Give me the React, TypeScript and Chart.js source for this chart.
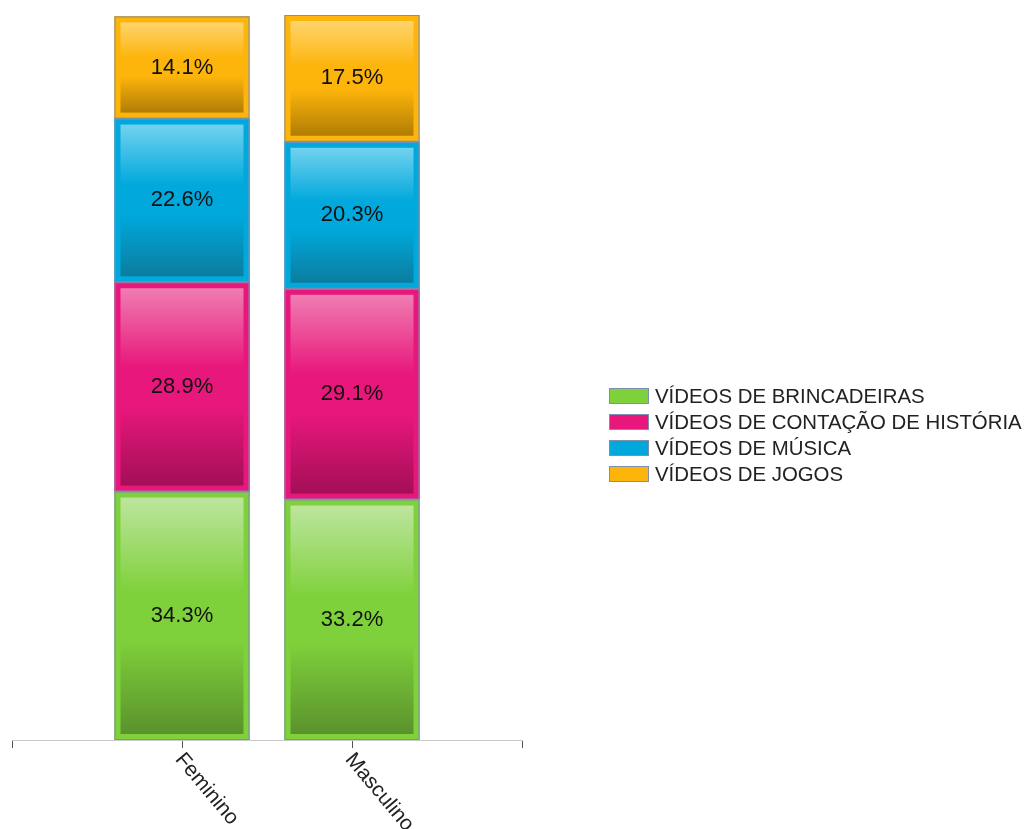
import React, { useEffect, useRef } from "react";
import { Chart, registerables } from "chart.js";

Chart.register(...registerables);

const categories = ["Feminino", "Masculino"];
const seriesNames = [
  "VÍDEOS DE BRINCADEIRAS",
  "VÍDEOS DE CONTAÇÃO DE HISTÓRIA",
  "VÍDEOS DE MÚSICA",
  "VÍDEOS DE JOGOS",
];
const brincadeiras = [34.3, 33.2];
const contacao = [28.9, 29.1];
const musica = [22.6, 20.3];
const jogos = [14.1, 17.5];

const baseColors = ["#7fd13b", "#e8177b", "#00a8dc", "#fdb40b"];
const lightColors = ["#bde59f", "#f07db2", "#72d2ef", "#ffd46c"];
const darkColors = ["#5a922c", "#a30f57", "#0b7d9e", "#b07d05"];

const FONT = "'Liberation Sans', Arial, sans-serif";

const barPlugin = {
  id: "barDecor",
  afterDatasetsDraw(chart: any) {
    const ctx = chart.ctx;
    chart.data.datasets.forEach((ds: any, di: number) => {
      const meta = chart.getDatasetMeta(di);
      meta.data.forEach((el: any, i: number) => {
        const v = ds.data[i];
        if (v == null) return;
        const { x, y, base, width } = el.getProps(["x", "y", "base", "width"], true);
        const left = x - width / 2;
        const top = Math.min(y, base);
        const h = Math.abs(base - y);
        const inset = 6;
        ctx.save();
        const g = ctx.createLinearGradient(0, top + inset, 0, top + h - inset);
        g.addColorStop(0, lightColors[di]);
        g.addColorStop(0.4, baseColors[di]);
        g.addColorStop(0.6, baseColors[di]);
        g.addColorStop(1, darkColors[di]);
        ctx.fillStyle = g;
        ctx.fillRect(left + inset, top + inset, width - 2 * inset, h - 2 * inset);
        ctx.strokeStyle = "#7f8fb0";
        ctx.lineWidth = 1;
        ctx.strokeRect(left + 0.5, top + 0.5, width - 1, h - 1);
        ctx.fillStyle = "#111";
        ctx.font = `22px ${FONT}`;
        ctx.textAlign = "center";
        ctx.textBaseline = "middle";
        ctx.fillText(v.toFixed(1) + "%", x, top + h / 2);
        ctx.restore();
      });
    });
  },
  afterDraw(chart: any) {
    const ctx = chart.ctx;
    const xs = chart.scales.x;
    ctx.save();
    categories.forEach((c, i) => {
      const px = xs.getPixelForValue(i + 1);
      ctx.save();
      ctx.translate(px - 3, xs.top + 16);
      ctx.rotate((50 * Math.PI) / 180);
      ctx.font = `21px ${FONT}`;
      ctx.fillStyle = "#222";
      ctx.textAlign = "left";
      ctx.textBaseline = "middle";
      ctx.fillText(c, 0, 0);
      ctx.restore();
    });
    const lx = 609;
    const ly0 = 396;
    seriesNames.forEach((n, i) => {
      const cy = ly0 + i * 26;
      ctx.fillStyle = baseColors[i];
      ctx.fillRect(lx, cy - 8, 40, 16);
      ctx.strokeStyle = "#7f8fb0";
      ctx.lineWidth = 1;
      ctx.strokeRect(lx + 0.5, cy - 7.5, 39, 15);
      ctx.fillStyle = "#222";
      ctx.font = `20.4px ${FONT}`;
      ctx.textAlign = "left";
      ctx.textBaseline = "middle";
      ctx.fillText(n, lx + 46, cy + 1);
    });
    ctx.restore();
  },
};

export default function App() {
  const ref = useRef<HTMLCanvasElement>(null);
  useEffect(() => {
    const labels = ["", ...categories, ""];
    const pad = (a: number[]) => [null, ...a, null];
    const series = [brincadeiras, contacao, musica, jogos];
    const chart = new Chart(ref.current!, {
      type: "bar",
      data: {
        labels,
        datasets: series.map((s, i) => ({
          label: seriesNames[i],
          data: pad(s) as any,
          backgroundColor: baseColors[i],
          borderWidth: 0,
          barThickness: 135,
        })),
      },
      options: {
        animation: false,
        responsive: false,
        maintainAspectRatio: false,
        layout: { padding: { left: 12, right: 503, top: 15, bottom: 81 } },
        plugins: { legend: { display: false }, tooltip: { enabled: false } },
        scales: {
          x: {
            stacked: true,
            offset: false,
            grid: {
              display: true,
              offset: false,
              drawOnChartArea: false,
              drawTicks: true,
              tickLength: 8,
              tickWidth: 1,
              tickColor: "#555",
            },
            border: { display: true, color: "#c8c8c8", width: 1 },
            ticks: { display: false },
          },
          y: {
            stacked: true,
            display: false,
            min: 0,
            max: 100.1,
          },
        },
      },
      plugins: [barPlugin],
    });
    return () => chart.destroy();
  }, []);
  return (
    <div style={{ position: "absolute", left: 0, top: 0, width: 1025, height: 829, background: "#fff" }}>
      <canvas ref={ref} width={1025} height={829} style={{ width: 1025, height: 829 }} />
    </div>
  );
}
